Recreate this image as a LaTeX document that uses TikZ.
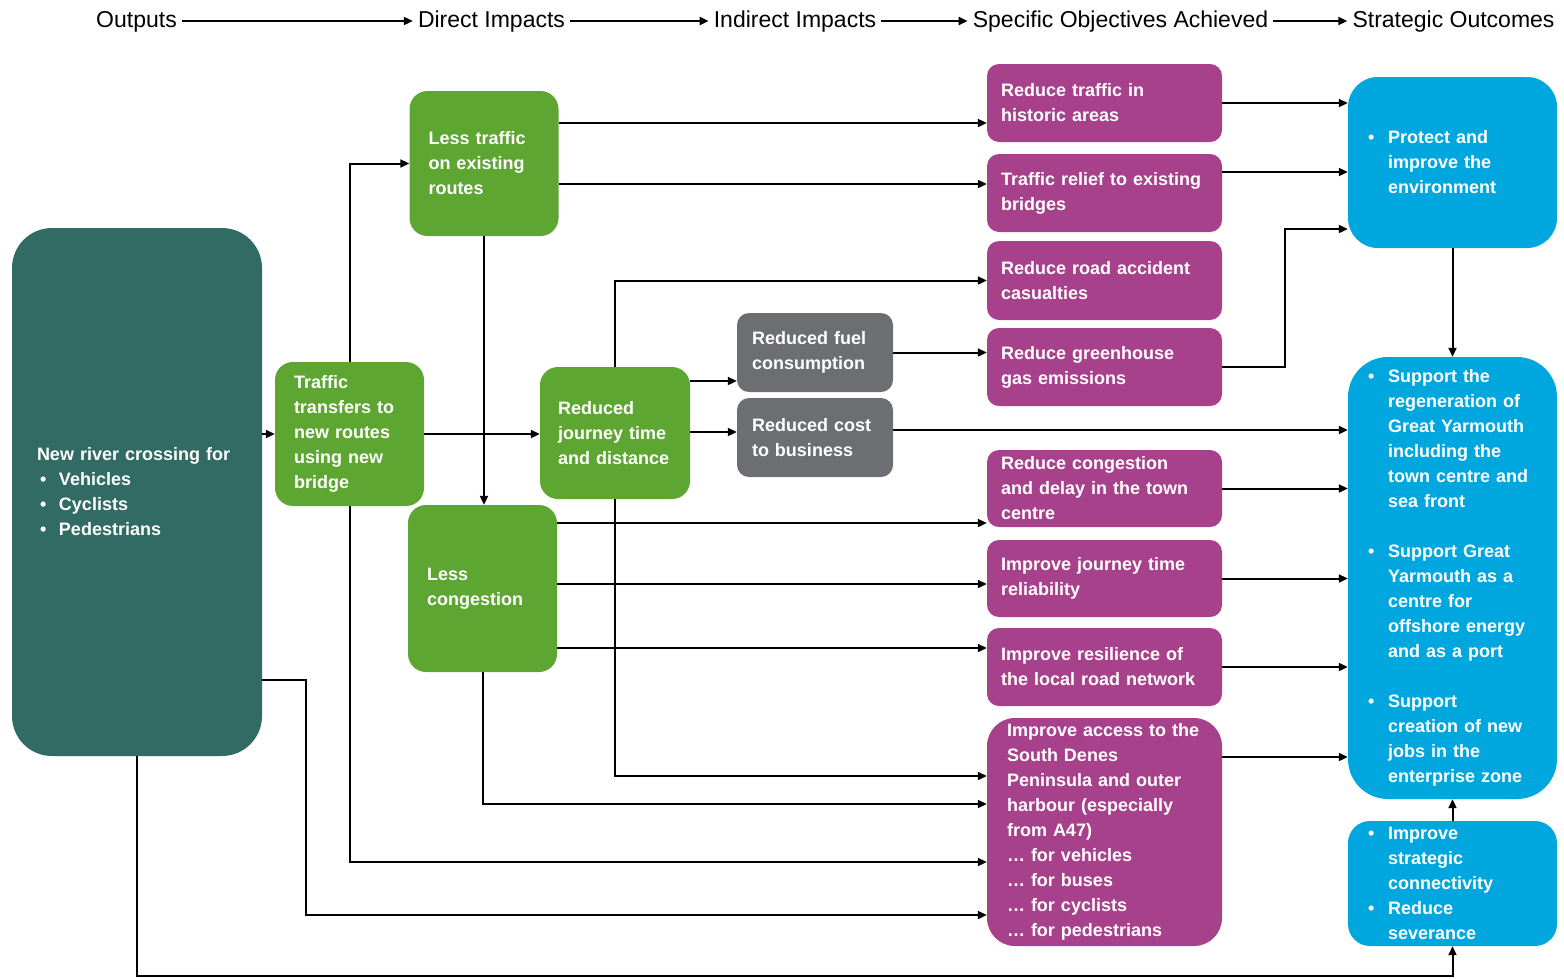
\documentclass[tikz,border=0pt]{standalone}
\usepackage{fontspec}
\setmainfont{Liberation Sans}
\usepackage{tikz}
\usetikzlibrary{arrows.meta}
\definecolor{myteal}{HTML}{326B64}
\definecolor{mygreen}{HTML}{5EA632}
\definecolor{mygray}{HTML}{6D6E71}
\definecolor{mypink}{HTML}{A8418B}
\definecolor{myblue}{HTML}{00A6DE}
\newcommand{\blt}{\makebox[20pt][l]{\textbullet}}
\newcommand{\bskip}{\hspace*{20pt}}
\newcommand{\oitem}{\hspace*{3pt}\makebox[19pt][l]{\textbullet}}

\begin{document}
\begin{tikzpicture}[x=1pt, y=-1pt, >={Triangle[length=9pt,width=8pt]},
    boxtext/.style={text=white, font=\bfseries\fontsize{18}{25}\selectfont, align=left, inner ysep=0pt},
    outbox/.style={boxtext, fill=myteal, rounded corners=40pt, minimum width=250, minimum height=528, inner xsep=25pt, text width=200},
    greenbox/.style={boxtext, fill=mygreen, rounded corners=18pt, minimum width=149, inner xsep=19pt, text width=111},
    graybox/.style={boxtext, fill=mygray, rounded corners=12pt, minimum width=156, minimum height=79, inner xsep=15pt, text width=126},
    pinkbox/.style={boxtext, fill=mypink, rounded corners=12pt, minimum width=235, inner xsep=14pt, text width=207},
    bluebox/.style={boxtext, fill=myblue, minimum width=209, inner xsep=20pt, text width=169},
    head/.style={font=\fontsize{23}{28}\selectfont, inner xsep=5pt, text height=17pt, text depth=5pt},
    link/.style={->, line width=2pt}]
    \useasboundingbox (0,0) rectangle (1564,978);

    \node[head] (hout) at (136.5,21) {Outputs};
    \node[head] (hdirect) at (491.5,21) {Direct Impacts};
    \node[head] (hindirect) at (795,21) {Indirect Impacts};
    \node[head] (hspecific) at (1120.5,21) {Specific Objectives Achieved};
    \node[head] (hstrategic) at (1453.5,21) {Strategic Outcomes};

    \node[outbox] (crossing) at (137,492) {New river crossing for\\ \oitem Vehicles\\ \oitem Cyclists\\ \oitem Pedestrians};

    \node[greenbox, minimum height=144] (transfers) at (349.5,434) {Traffic\\ transfers to\\ new routes\\ using new\\ bridge};
    \node[greenbox, minimum height=145] (lesstraffic) at (484,163.5) {Less traffic\\ on existing\\ routes};
    \node[greenbox, minimum height=167] (lesscong) at (482.5,588.5) {Less\\ congestion};
    \node[greenbox, minimum width=150, minimum height=132, inner xsep=18pt, text width=114] (journey) at (615,433) {Reduced\\ journey time\\ and distance};

    \node[graybox] (fuel) at (815,352.5) {Reduced fuel\\ consumption};
    \node[graybox] (cost) at (815,437.5) {Reduced cost\\ to business};

    \node[pinkbox, minimum height=78] (historic) at (1104.5,103) {Reduce traffic in\\ historic areas};
    \node[pinkbox, minimum height=78] (bridges) at (1104.5,193) {Traffic relief to existing\\ bridges};
    \node[pinkbox, minimum height=79] (casualties) at (1104.5,280.5) {Reduce road accident\\ casualties};
    \node[pinkbox, minimum height=78] (greenhouse) at (1104.5,367) {Reduce greenhouse\\ gas emissions};
    \node[pinkbox, minimum height=77] (towncentre) at (1104.5,488.5) {Reduce congestion\\ and delay in the town\\ centre};
    \node[pinkbox, minimum height=77] (reliability) at (1104.5,578.5) {Improve journey time\\ reliability};
    \node[pinkbox, minimum height=78] (resilience) at (1104.5,667) {Improve resilience of\\ the local road network};
    \node[pinkbox, minimum height=228, rounded corners=28pt, inner xsep=20pt, text width=195] (access) at (1104.5,832) {Improve access to the\\ South Denes\\ Peninsula and outer\\ harbour (especially\\ from A47)\\ \dots{} for vehicles\\ \dots{} for buses\\ \dots{} for cyclists\\ \dots{} for pedestrians};

    \node[bluebox, minimum height=171, rounded corners=30pt] (environment) at (1452.5,162.5) {\blt Protect and\\ \bskip improve the\\ \bskip environment};
    \node[bluebox, minimum height=442, rounded corners=40pt] (regen) at (1452.5,578) {\blt Support the\\ \bskip regeneration of\\ \bskip Great Yarmouth\\ \bskip including the\\ \bskip town centre and\\ \bskip sea front\\[25pt] \blt Support Great\\ \bskip Yarmouth as a\\ \bskip centre for\\ \bskip offshore energy\\ \bskip and as a port\\[25pt] \blt Support\\ \bskip creation of new\\ \bskip jobs in the\\ \bskip enterprise zone};
    \node[bluebox, minimum height=125, rounded corners=22pt] (connectivity) at (1452.5,883.5) {\blt Improve\\ \bskip strategic\\ \bskip connectivity\\ \blt Reduce\\ \bskip severance};

    \coordinate (elbow) at (306,915);
    \coordinate (ghelbow) at (1285,229);

    \draw[link] (hout) -- (hdirect);
    \draw[link] (hdirect) -- (hindirect);
    \draw[link] (hindirect) -- (hspecific);
    \draw[link] (hspecific) -- (hstrategic);

    \draw[link] (crossing.east |- transfers.west) -- (transfers.west);
    \draw[link] (transfers.north) |- (lesstraffic);
    \draw[link] (transfers.east) -- (journey.west |- transfers.east);
    \draw[link] (lesstraffic.south) -- (lesstraffic.south |- lesscong.north);
    \draw[link] (lesstraffic.east |- 0,123) -- (historic.west |- 0,123);
    \draw[link] (lesstraffic.east |- 0,184) -- (bridges.west |- 0,184);
    \draw[link] (journey.north) |- (casualties);
    \draw[link] (journey.east |- 0,381) -- (fuel.west |- 0,381);
    \draw[link] (journey.east |- 0,432) -- (cost.west |- 0,432);
    \draw[link] (fuel.east) -- (fuel.east -| greenhouse.west);
    \draw[link] (cost.east |- 0,430) -- (regen.west |- 0,430);
    \draw[link] (lesscong.east |- 0,523) -- (towncentre.west |- 0,523);
    \draw[link] (lesscong.east |- 0,584) -- (reliability.west |- 0,584);
    \draw[link] (lesscong.east |- 0,648) -- (resilience.west |- 0,648);
    \draw[link] (journey.south) |- (access.west |- 0,776);
    \draw[link] (lesscong.south) |- (access.west |- 0,804);
    \draw[link] (transfers.south) |- (access.west |- 0,862);
    \draw[link] (crossing.east |- 0,680) -| (elbow) -- (access.west |- elbow);
    \draw[link] (crossing.south) -- (crossing.south |- 0,976) -| (connectivity.south);

    \draw[link] (historic) -- (historic -| environment.west);
    \draw[link] (bridges.east |- 0,172) -- (environment.west |- 0,172);
    \draw[link] (greenhouse.east) -| (ghelbow) -- (environment.west |- ghelbow);
    \draw[link] (environment) -- (regen);
    \draw[link] (towncentre) -- (towncentre -| regen.west);
    \draw[link] (reliability) -- (reliability -| regen.west);
    \draw[link] (resilience) -- (resilience -| regen.west);
    \draw[link] (access.east |- 0,757) -- (regen.west |- 0,757);
    \draw[link] (connectivity) -- (regen);
\end{tikzpicture}
\end{document}
